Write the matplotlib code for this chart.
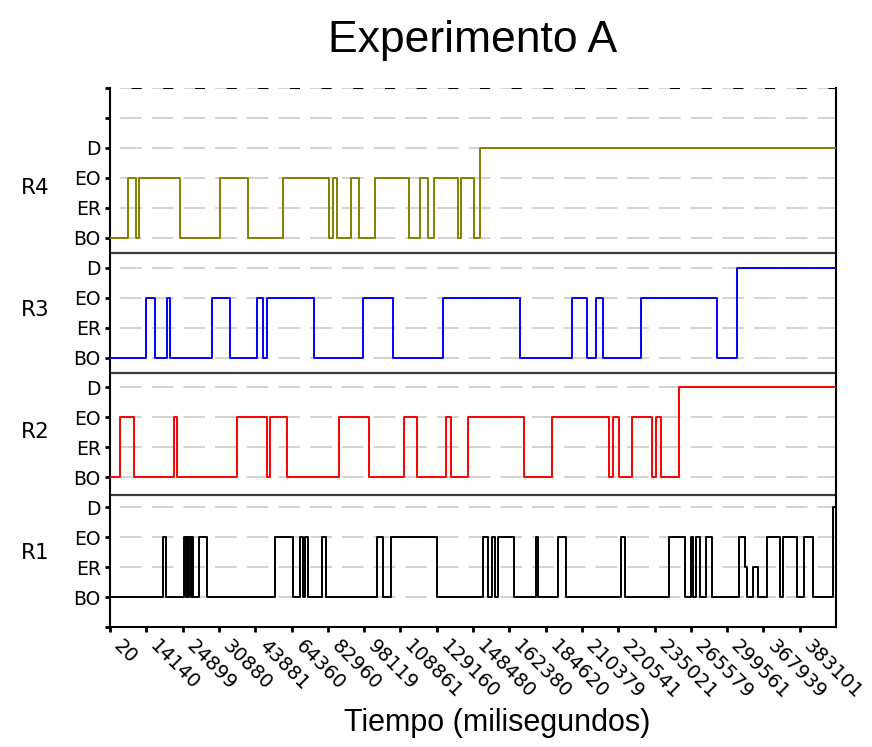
import matplotlib.pyplot as plt
import numpy as np

# state names and x tick labels (time in ms, one label every 10 events)
states = ['BO', 'ER', 'EO', 'D']
x_labels = ['20', '14140', '24899', '30880', '43881', '64360', '82960', '98119',
            '108861', '129160', '148480', '162380', '184620', '210379', '220541',
            '235021', '265579', '299561', '367939', '383101']
n_events = 200

# R1 (black)
r1_t = [0, 14.5, 15.3, 20.5, 20.9, 21.2, 21.6, 21.9, 22.3, 22.5, 22.8, 24.6, 26.6,
        45.5, 50.5, 52.3, 53.1, 53.7, 54.6, 58.5, 59.4, 73.5, 75.1, 77.4, 90.0,
        102.7, 104.2, 105.1, 106.1, 107.0, 111.3, 117.3, 117.8, 123.5, 125.6,
        140.8, 141.9, 154.1, 158.4, 160.0, 160.7, 161.4, 162.5, 164.1, 165.9,
        173.3, 174.9, 175.6, 177.2, 178.6, 180.9, 184.6, 185.3, 189.2, 191.2,
        193.6, 199.3]
r1_s = ['BO', 'EO', 'BO', 'EO', 'BO', 'EO', 'BO', 'EO', 'BO', 'EO', 'BO', 'EO', 'BO',
        'EO', 'BO', 'EO', 'BO', 'EO', 'BO', 'EO', 'BO', 'EO', 'BO', 'EO', 'BO',
        'EO', 'BO', 'EO', 'BO', 'EO', 'BO', 'EO', 'BO', 'EO', 'BO',
        'EO', 'BO', 'EO', 'BO', 'EO', 'BO', 'EO', 'BO', 'EO', 'BO',
        'EO', 'ER', 'BO', 'ER', 'BO', 'EO', 'BO', 'EO', 'BO', 'EO',
        'BO', 'D']

# R2 (red)
r2_t = [0, 2.75, 6.6, 17.6, 18.4, 35.1, 43.2, 44.1, 48.8, 63.0, 71.4, 81.1, 84.5,
        92.6, 93.9, 98.7, 114.0, 121.7, 137.6, 138.7, 140.3, 143.7, 149.2, 150.4,
        151.7, 156.8]
r2_s = ['BO', 'EO', 'BO', 'EO', 'BO', 'EO', 'BO', 'EO', 'BO', 'EO', 'BO', 'EO', 'BO',
        'EO', 'BO', 'EO', 'BO', 'EO', 'BO', 'EO', 'BO', 'EO', 'BO', 'EO',
        'BO', 'D']

# R3 (blue)
r3_t = [0, 9.9, 12.4, 15.8, 16.5, 28.0, 33.1, 40.6, 42.1, 43.3, 56.2, 69.6, 77.9,
        91.7, 113.0, 127.2, 131.5, 133.8, 135.9, 146.3, 167.3, 172.6]
r3_s = ['BO', 'EO', 'BO', 'EO', 'BO', 'EO', 'BO', 'EO', 'BO', 'EO', 'BO', 'EO', 'BO',
        'EO', 'BO', 'EO', 'BO', 'EO', 'BO', 'EO', 'BO', 'D']

# R4 (olive)
r4_t = [0, 5.0, 7.2, 7.9, 19.3, 30.3, 37.9, 47.7, 60.4, 61.3, 62.5, 66.3, 68.7,
        73.0, 82.4, 85.4, 87.7, 89.3, 95.9, 96.7, 100.4, 101.9]
r4_s = ['BO', 'EO', 'BO', 'EO', 'BO', 'EO', 'BO', 'EO', 'BO', 'EO', 'BO', 'EO', 'BO',
        'EO', 'BO', 'EO', 'BO', 'EO', 'BO', 'EO', 'BO', 'D']

robots = ['R1', 'R2', 'R3', 'R4']
series = [(r1_t, r1_s), (r2_t, r2_s), (r3_t, r3_s), (r4_t, r4_s)]
colors = ['black', '#ff0000', '#0000ff', '#808000']

fig = plt.figure(figsize=(8.72, 7.47), dpi=100)
ax = fig.add_axes([110 / 872, 120 / 747, 726 / 872, 539 / 747])

# dashed grid on every level
for y in range(1, 19):
    ax.axhline(y, color='#c8c8c8', lw=1.1, ls=(14.2, (14.2, 6.55)), zorder=1)
# top border: black dashes over the grey line
ax.axhline(18, color='black', lw=1.5, ls=(4.8, (4.8, 10.4)), zorder=2)

# separators between robots
for ysep in [4.42, 8.47, 12.5]:
    ax.axhline(ysep, color='#3a3a3a', lw=1.6, zorder=2)

for i, ((t, s), c) in enumerate(zip(series, colors)):
    base = 1 + 4 * i
    y = [base + states.index(v) for v in s]
    ax.step(t + [n_events], y + [y[-1]], where='post', color=c, lw=1.4, zorder=3)

label_y = [2.47, 6.51, 10.59, 14.66]
for name, ly in zip(robots, label_y):
    ax.text(-0.083, ly, name, transform=ax.get_yaxis_transform(), ha='right',
            va='center', fontsize=15.5, family='DejaVu Sans')

ax.set_xlim(0, n_events)
ax.set_ylim(0, 18)
ax.set_xticks(np.arange(0, n_events, 10))
ax.set_xticklabels(x_labels, rotation=-45, ha='left', va='top', fontsize=14)
ax.set_yticks(range(19))
ax.set_yticklabels([''] + states * 4 + ['', ''], fontsize=13.5)
ax.tick_params(direction='out', length=3.6, width=2, pad=3)

ax.spines['top'].set_visible(False)
for sp in ['left', 'bottom', 'right']:
    ax.spines[sp].set_linewidth(1.5)

ax.set_title('Experimento A', fontsize=32, family='Liberation Sans', pad=26)
fig.text(497.5 / 872, 1 - 731 / 747, 'Tiempo (milisegundos)', ha='center',
         va='baseline', fontsize=22, family='Liberation Sans')

plt.savefig('out.png', dpi=100)
